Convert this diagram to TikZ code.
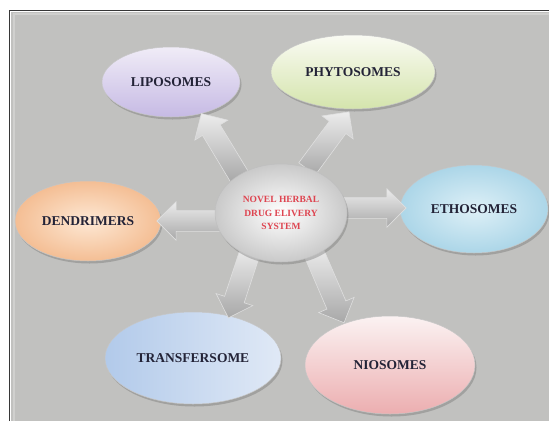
\documentclass[tikz,border=0pt]{standalone}
\usepackage{fontspec}
\setmainfont{Liberation Serif}
\usetikzlibrary{shapes.geometric,shapes.arrows,shadows,calc}
\definecolor{bggray}{RGB}{193,193,191}
\definecolor{bglight}{RGB}{208,208,206}
\definecolor{framedark}{RGB}{55,55,55}
\definecolor{txtdark}{RGB}{35,35,55}
\definecolor{txtred}{RGB}{222,68,80}
\definecolor{lipoA}{RGB}{240,236,247}
\definecolor{lipoB}{RGB}{198,186,228}
\definecolor{phytoA}{RGB}{250,251,243}
\definecolor{phytoB}{RGB}{212,228,172}
\definecolor{ethoA}{RGB}{222,240,247}
\definecolor{ethoB}{RGB}{172,214,232}
\definecolor{dendA}{RGB}{253,232,212}
\definecolor{dendB}{RGB}{244,190,148}
\definecolor{tranA}{RGB}{224,233,246}
\definecolor{tranB}{RGB}{178,202,234}
\definecolor{nioA}{RGB}{251,242,242}
\definecolor{nioB}{RGB}{236,174,176}
\definecolor{arrA}{RGB}{236,236,236}
\definecolor{arrB}{RGB}{168,168,168}
\newcommand\blockarr[3]{%
  \path let \p1=($(#2)-(#1)$), \n1={veclen(\x1,\y1)} in
    (#1) -- (#2) node[blockarrow, midway, minimum height=\n1] (#3) {};}
\begin{document}
\begin{tikzpicture}[x=1pt,y=-1pt,
  bubble/.style={ellipse, inner sep=0pt, draw=white!55!gray, line width=0.5pt,
    font=\fontsize{13.5}{15}\selectfont\bfseries, text=txtdark,
    drop shadow={shadow xshift=1.5pt, shadow yshift=-2.5pt, opacity=0.35, fill=black!60}},
  blockarrow/.style={single arrow, inner xsep=0pt, inner ysep=10pt,
    single arrow head extend=9pt, draw=white!75!gray, line width=0.6pt,
    top color=arrA, bottom color=arrB, sloped, allow upside down},
]
\useasboundingbox (0,0) rectangle (549,421);
\fill[white] (0,0) rectangle (549,421);
\fill[bggray] (11,12) rectangle (549,421);
\draw[bglight, line width=2pt] (14,421) -- (14,14) -- (549,14);
\draw[framedark, line width=1pt] (9,421) -- (9,10) -- (549,10);

% outer bubbles
\node[bubble, minimum width=138pt, minimum height=70pt, top color=lipoA, bottom color=lipoB] (lipo) at (171,82) {LIPOSOMES};
\node[bubble, minimum width=164pt, minimum height=74pt, top color=phytoA, bottom color=phytoB] (phyto) at (353,72) {PHYTOSOMES};
\node[bubble, minimum width=148pt, minimum height=88pt, inner color=ethoA, outer color=ethoB] (etho) at (474,209) {ETHOSOMES};
\node[bubble, minimum width=146pt, minimum height=80pt, inner color=dendA, outer color=dendB] (dend) at (88,221) {DENDRIMERS};
\node[bubble, minimum width=176pt, minimum height=92pt, left color=tranB, right color=tranA] (tran) at (193,358) {TRANSFERSOME};
\node[bubble, minimum width=170pt, minimum height=98pt, top color=nioA, bottom color=nioB] (nio) at (390,365) {NIOSOMES};

% arrow ends
\coordinate (s1) at (242,181); \coordinate (t1) at (204,118);
\coordinate (s2) at (304,173); \coordinate (t2) at (346,116);
\coordinate (s3) at (326,208); \coordinate (t3) at (401,208);
\coordinate (s4) at (236,221); \coordinate (t4) at (162,221);
\coordinate (s5) at (252,246); \coordinate (t5) at (230,313);
\coordinate (s6) at (311,246); \coordinate (t6) at (342,318);
\blockarr{s1}{t1}{ar1}
\blockarr{s2}{t2}{ar2}
\blockarr{s3}{t3}{ar3}
\blockarr{s4}{t4}{ar4}
\blockarr{s5}{t5}{ar5}
\blockarr{s6}{t6}{ar6}

% centre
\node[ellipse, inner sep=0pt, minimum width=132pt, minimum height=98pt,
  draw=white!50!gray, line width=0.5pt, inner color=white, outer color=gray!42!white,
  drop shadow={shadow xshift=1.5pt, shadow yshift=-2.5pt, opacity=0.35, fill=black!60},
  align=center, text=txtred, font=\fontsize{9.5}{13.5}\selectfont\bfseries] (core) at (281,213)
  {NOVEL HERBAL\\DRUG ELIVERY\\SYSTEM};
\end{tikzpicture}
\end{document}
